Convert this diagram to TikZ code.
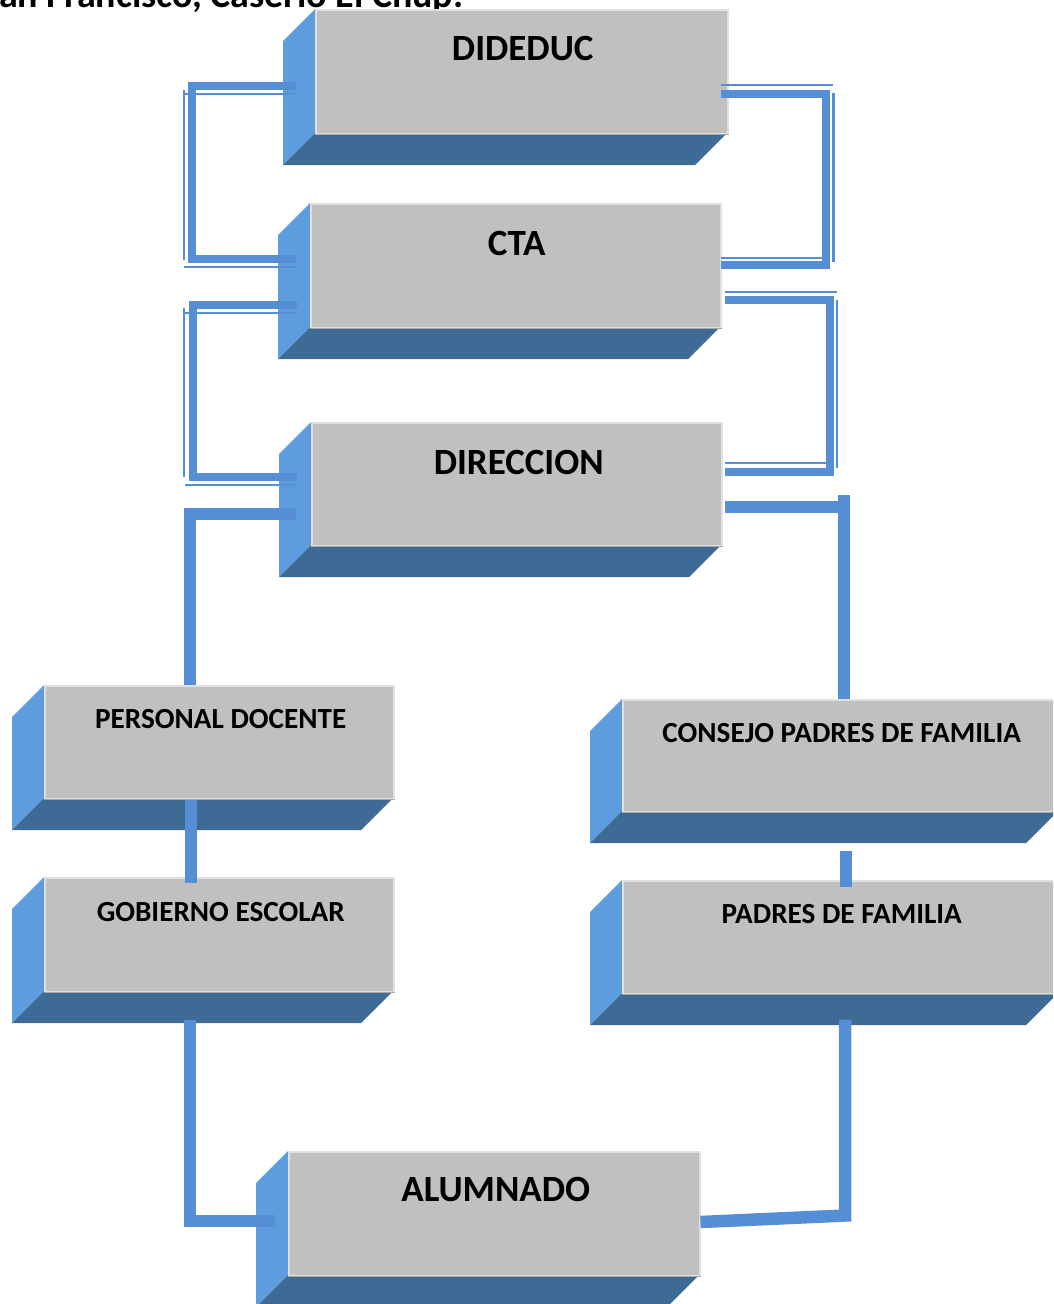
\documentclass[tikz,border=0pt]{standalone}
\usepackage{fontspec}
\setmainfont{Carlito}
\usetikzlibrary{calc}
\definecolor{frontgray}{RGB}{192,192,192}
\definecolor{edgegray}{RGB}{224,224,224}
\definecolor{shadegray}{RGB}{165,165,165}
\definecolor{sideblue}{RGB}{93,157,222}
\definecolor{botblue}{RGB}{62,106,150}
\definecolor{linkblue}{RGB}{85,142,213}
\tikzset{
  front/.style={fill=frontgray, draw=edgegray, line width=1.5pt, inner sep=0pt, anchor=north west},
  lbl/.style={font=\bfseries\fontsize{29.2}{34}\selectfont, anchor=base, inner sep=0pt},
  biglbl/.style={font=\bfseries\fontsize{37}{44}\selectfont, anchor=base, inner sep=0pt},
  thickl/.style={draw=linkblue, line width=7.5pt},
  thinl/.style={draw=linkblue, line width=2.5pt},
  singl/.style={draw=linkblue, line width=12.5pt},
}
% #1 name, #2 x1, #3 y1, #4 width, #5 height
\newcommand\blk[5]{%
  \fill[sideblue] (#2,#3) -- ++(-32,32) -- ++(0,#5) -- ++(32,-32) -- cycle;
  \fill[botblue] (#2,#3+#5) -- ++(#4,0) -- ++(-32,32) -- ++(-#4,0) -- cycle;
  \node[front, minimum width=#4pt, minimum height=#5pt] (#1) at (#2,#3) {};
  \draw[shadegray, line width=1.5pt] (#1.south west) -- (#1.south east);
}
\begin{document}
\begin{tikzpicture}[x=1pt, y=-1pt]
\clip (0,0) rectangle (1053,1304);
\fill[white] (0,0) rectangle (1053,1304);

% header (cut off by the page edge, as in the reference)
\node[anchor=base west, inner sep=0pt, font=\bfseries\fontsize{38}{44}\selectfont] (hdr) at (-19,7) {San Francisco, Caserío El Chup.};

% blocks
\blk{dideduc}{315}{9}{412}{124}
\blk{cta}{310}{203}{410}{124}
\blk{direccion}{311}{422}{410}{123}
\blk{personal}{44}{685}{349}{113}
\blk{gobierno}{44}{877}{349}{114}
\blk{consejo}{622}{699}{436}{112}
\blk{padres}{622}{880}{436}{113}
\blk{alumnado}{288}{1151}{411}{124}

% labels
\node[biglbl] (dideduc-t) at ($(dideduc.north)+(1,51)$) {DIDEDUC};
\node[biglbl] (cta-t) at ($(cta.north)+(1,52)$) {CTA};
\node[biglbl] (direccion-t) at ($(direccion.north)+(2,52)$) {DIRECCION};
\node[lbl] (personal-t) at ($(personal.north)+(1.5,43)$) {PERSONAL DOCENTE};
\node[lbl] (gobierno-t) at ($(gobierno.north)+(1.5,44)$) {GOBIERNO ESCOLAR};
\node[lbl] (consejo-t) at ($(consejo.north)+(1,43)$) {CONSEJO PADRES DE FAMILIA};
\node[lbl] (padres-t) at ($(padres.north)+(1,43)$) {PADRES DE FAMILIA};
\node[biglbl] (alumnado-t) at ($(alumnado.north)+(1.5,50)$) {ALUMNADO};

% connector end points
\coordinate (dl1) at (296,86);  \coordinate (dl2) at (296,259);
\coordinate (dr1) at (721,94);  \coordinate (dr2) at (721,265);
\coordinate (cl1) at (297,305); \coordinate (cl2) at (297,477);
\coordinate (cr1) at (725,300); \coordinate (cr2) at (725,472);

% DIDEDUC -- CTA (left)
\draw[thickl] (dl1) -- (192,86) -- (192,259) -- (dl2);
\draw[thinl] (296,94) -- (184,94);
\draw[thinl] (184,90) -- (184,260);
\draw[thinl] (184,267) -- (296,267);
% DIDEDUC -- CTA (right)
\draw[thickl] (dr1) -- (826,94) -- (826,265) -- (dr2);
\draw[thinl] (721,85) -- (833,85);
\draw[thinl] (833.5,93) -- (833.5,262);
\draw[thinl] (721,258) -- (830,258);
% CTA -- DIRECCION (left)
\draw[thickl] (cl1) -- (193,305) -- (193,477) -- (cl2);
\draw[thinl] (297,313) -- (185,313);
\draw[thinl] (184,308) -- (184,477);
\draw[thinl] (185,485) -- (297,485);
% CTA -- DIRECCION (right)
\draw[thickl] (cr1) -- (830,300) -- (830,472) -- (cr2);
\draw[thinl] (725,292) -- (837,292);
\draw[thinl] (837,300) -- (837,468);
\draw[thinl] (725,463) -- (830,463);

% single connectors
\draw[singl] (296,514) -- (190,514) -- (personal.north -| 190,0);
\draw[singl] (725,507) -- (844,507);
\draw[singl] (844,495) -- (consejo.north -| 844,0);
\draw[singl] (personal.south -| 191,0) -- ($(gobierno.north -| 191,0)+(0,6)$);
\draw[singl] ($(consejo.south -| 846,0)+(0,38)$) -- ($(padres.north -| 846,0)+(0,7)$);
\draw[singl] ($(gobierno.south -| 190,0)+(0,27)$) -- (190,1221) -- (275,1221);
\draw[singl] (alumnado.east |- 0,1222) -- (845,1215.5) -- ($(padres.south -| 845,0)+(0,25)$);
\end{tikzpicture}
\end{document}
